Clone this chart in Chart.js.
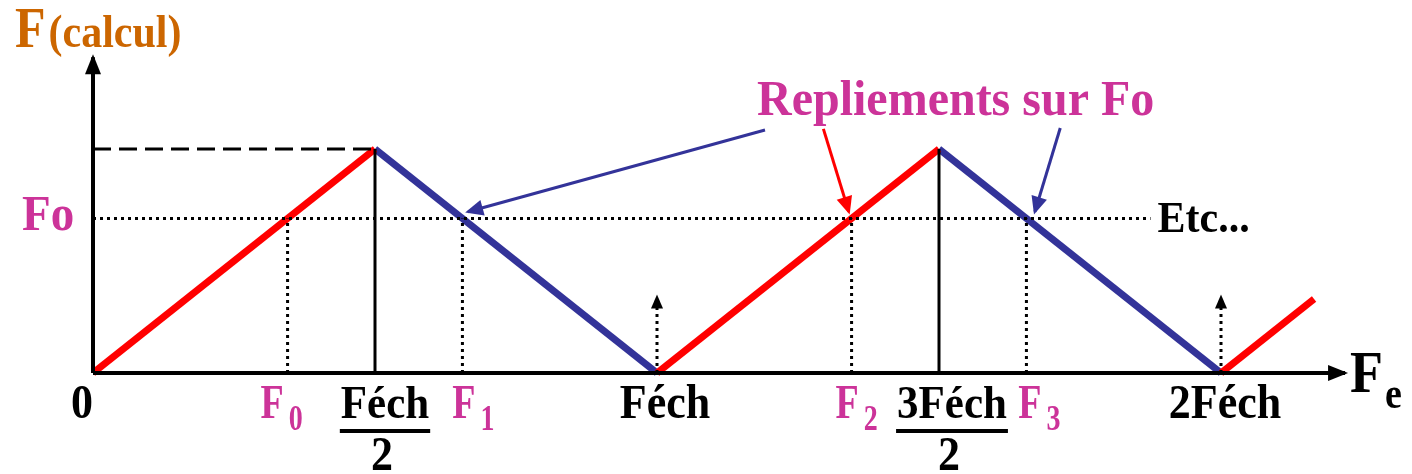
<!DOCTYPE html>
<html>
<head>
<meta charset="utf-8">
<script src="https://cdn.jsdelivr.net/npm/chart.js@4"></script>
<style>
  html, body { margin: 0; padding: 0; background: #fff; }
  #wrap { position: relative; width: 1412px; height: 474px; }
</style>
</head>
<body>
<div id="wrap"><canvas id="repliementChart"></canvas></div>
<script>
// frequencies in units of Féch/2, amplitude in units of Féch/2
const Fo = 0.69;
const peak = 1;

const redSegments = [
  [[0, 0], [1, 1]],
  [[2, 0], [3, 1]],
  [[4, 0], [4.33, 0.33]],
];
const blueSegments = [
  [[1, 1], [2, 0]],
  [[3, 1], [4, 0]],
];

// points where Fo folds back
const foldX = [Fo, 2 - Fo, 2 + Fo, 4 - Fo];
const foldLabels = ["0", "1", "2", "3"];

// multiples of Féch (arrows pointing up)
const echX = [2, 4];
const echArrowTop = 0.35;

const xTickValues = [0, 2, 4];
const xTickLabels = ["0", "Féch", "2Féch"];
const halfTickValues = [1, 3];
const halfTickLabels = ["Féch", "3Féch"];

// annotation arrows "Repliements sur Fo" : [from, to]
const pointerBlueLeft = [[2.383, 1.085], [1.33, 0.72]];
const pointerRed = [[2.59, 1.09], [2.68, 0.72]];
const pointerBlueRight = [[3.43, 1.094], [3.34, 0.72]];

const foLineEnd = 3.75;
const yAxisTop = 1.41;
const xAxisEnd = 4.44;

const RED = "#ff0000";
const BLUE = "#333399";
const MAGENTA = "#cc3399";
const ORANGE = "#cc6600";
const SERIF = "'Liberation Serif', 'Times New Roman', serif";

const seg = (pts) => pts.map((p) => ({ x: p[0], y: p[1] }));

const lineDs = (pts, color, width, extra) =>
  Object.assign(
    {
      data: seg(pts),
      showLine: true,
      borderColor: color,
      backgroundColor: color,
      borderWidth: width,
      pointRadius: 0,
      pointHoverRadius: 0,
      clip: false,
    },
    extra || {}
  );

const datasets = [];

// axes
datasets.push(lineDs([[0, 0], [xAxisEnd, 0]], "#000", 4, { arrowHead: { len: 20, half: 8 } }));
datasets.push(lineDs([[0, 0], [0, yAxisTop]], "#000", 4, { arrowHead: { len: 20, half: 8 } }));

// dashed at the peak
datasets.push(lineDs([[0, peak], [1, peak]], "#000", 3, { borderDash: [18, 8] }));
// dotted Fo level
datasets.push(lineDs([[0, Fo], [foLineEnd, Fo]], "#000", 3, { borderDash: [3, 4] }));

// solid verticals at Féch/2 and 3Féch/2
halfTickValues.forEach((x) => {
  datasets.push(lineDs([[x, 0], [x, peak]], "#000", 3));
});

// dotted verticals at F0..F3
foldX.forEach((x) => {
  datasets.push(lineDs([[x, 0], [x, Fo]], "#000", 3, { borderDash: [3, 4] }));
});

// dotted up arrows at Féch, 2Féch
echX.forEach((x) => {
  datasets.push(lineDs([[x, 0], [x, echArrowTop - 0.05]], "#000", 3, {
    borderDash: [3, 4],
    arrowHead: { len: 14, half: 6 },
    headTo: [x, echArrowTop],
  }));
});

redSegments.forEach((s) => datasets.push(lineDs(s, RED, 7)));
blueSegments.forEach((s) => datasets.push(lineDs(s, BLUE, 7)));

datasets.push(lineDs(pointerBlueLeft, BLUE, 3, { arrowHead: { len: 18, half: 8 } }));
datasets.push(lineDs(pointerRed, RED, 3, { arrowHead: { len: 18, half: 8 } }));
datasets.push(lineDs(pointerBlueRight, BLUE, 3, { arrowHead: { len: 18, half: 8 } }));

const arrowHeads = {
  id: "arrowHeads",
  afterDatasetsDraw(chart) {
    const { ctx, scales } = chart;
    chart.data.datasets.forEach((ds) => {
      if (!ds.arrowHead) return;
      const n = ds.data.length;
      const a = ds.data[n - 2];
      const b = ds.data[n - 1];
      const tip = ds.headTo ? { x: ds.headTo[0], y: ds.headTo[1] } : b;
      const x1 = scales.x.getPixelForValue(a.x);
      const y1 = scales.y.getPixelForValue(a.y);
      let x2 = scales.x.getPixelForValue(tip.x);
      let y2 = scales.y.getPixelForValue(tip.y);
      const ang = Math.atan2(y2 - y1, x2 - x1);
      if (!ds.headTo) {
        x2 += Math.cos(ang) * 3;
        y2 += Math.sin(ang) * 3;
      }
      const { len, half } = ds.arrowHead;
      const bx = x2 - Math.cos(ang) * len;
      const by = y2 - Math.sin(ang) * len;
      ctx.save();
      ctx.fillStyle = ds.borderColor;
      ctx.beginPath();
      ctx.moveTo(x2, y2);
      ctx.lineTo(bx + Math.sin(ang) * half, by - Math.cos(ang) * half);
      ctx.lineTo(bx - Math.sin(ang) * half, by + Math.cos(ang) * half);
      ctx.closePath();
      ctx.fill();
      ctx.restore();
    });
  },
};

// bold serif text, a bit taller than wide like the original slide
function txt(ctx, s, x, y, size, color, align, sy) {
  ctx.save();
  ctx.font = "bold " + size + "px " + SERIF;
  ctx.fillStyle = color;
  ctx.textAlign = align || "left";
  ctx.textBaseline = "alphabetic";
  ctx.translate(x, y);
  ctx.scale(1, sy || 1.1);
  ctx.fillText(s, 0, 0);
  const w = ctx.measureText(s).width;
  ctx.restore();
  return w;
}

const labels = {
  id: "labels",
  afterDraw(chart) {
    const { ctx, scales } = chart;
    const px = (v) => scales.x.getPixelForValue(v);
    const py = (v) => scales.y.getPixelForValue(v);
    const base = py(0) + 45;

    // simple tick labels
    const tickDx = [-11, 8, 4];
    xTickValues.forEach((v, i) => {
      txt(ctx, xTickLabels[i], px(v) + tickDx[i], base, 44, "#000", "center");
    });

    // fractions Féch/2, 3Féch/2
    const fracDx = [10, 13];
    halfTickValues.forEach((v, i) => {
      const cx = px(v) + fracDx[i];
      const w = txt(ctx, halfTickLabels[i], cx, base, 43, "#000", "center");
      ctx.fillStyle = "#000";
      ctx.fillRect(cx - w / 2 - 1, base + 11, w + 2, 4);
      txt(ctx, "2", cx - 3, base + 52, 44, "#000", "center");
    });

    // F0..F3
    const foldDx = [-6, 11, 5, 13];
    foldX.forEach((v, i) => {
      ctx.font = "bold 38px " + SERIF;
      const wF = ctx.measureText("F").width;
      ctx.font = "bold 28px " + SERIF;
      const wS = ctx.measureText(foldLabels[i]).width;
      const left = px(v) + foldDx[i] - (wF + 5 + wS) / 2;
      txt(ctx, "F", left, base, 38, MAGENTA, "left", 1.25);
      txt(ctx, foldLabels[i], left + wF + 5, base + 12, 28, MAGENTA, "left", 1.3);
    });

    // axis titles
    const wF = txt(ctx, "F", 15, 47, 50, ORANGE, "left", 1.15);
    txt(ctx, "(calcul)", 15 + wF + 3, 47, 42, ORANGE);
    const wFe = txt(ctx, "F", px(xAxisEnd) + 5, py(0) + 19, 54, "#000");
    txt(ctx, "e", px(xAxisEnd) + 7 + wFe, py(0) + 35, 38, "#000", "left", 1.15);

    txt(ctx, "Fo", 22, py(Fo) + 12, 47, MAGENTA, "left", 1.08);
    txt(ctx, "Repliements sur Fo", 757, 115, 48, MAGENTA, "left", 1.05);
    txt(ctx, "Etc...", px(foLineEnd) + 7, py(Fo) + 14, 42, "#000", "left", 1.05);
  },
};

new Chart(document.getElementById("repliementChart"), {
  type: "scatter",
  data: { datasets: datasets },
  options: {
    responsive: true,
    maintainAspectRatio: false,
    animation: false,
    events: [],
    layout: { padding: { left: 93, right: 50, top: 59.4, bottom: 101 } },
    plugins: {
      legend: { display: false },
      tooltip: { enabled: false },
    },
    scales: {
      x: { type: "linear", min: 0, max: 4.5, display: false },
      y: { type: "linear", min: 0, max: 1.4, display: false },
    },
  },
  plugins: [arrowHeads, labels],
});
</script>
</body>
</html>
